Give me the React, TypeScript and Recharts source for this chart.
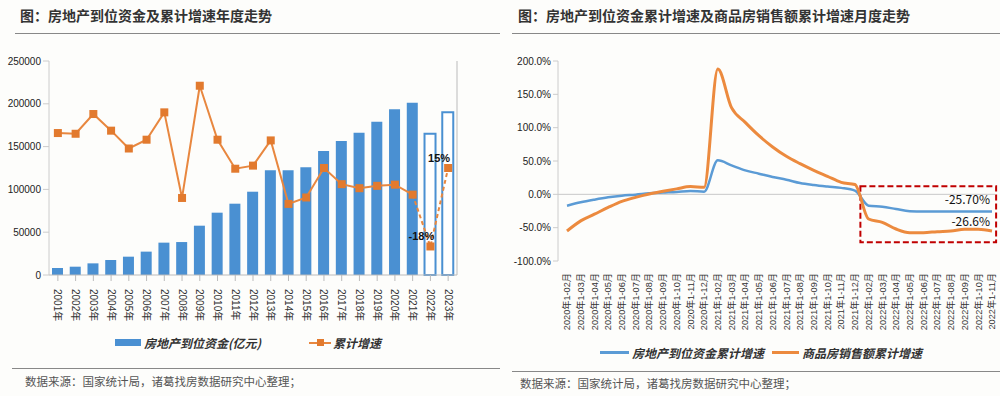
import React from 'react';
import {
  ComposedChart, LineChart, Bar, Line, XAxis, YAxis, Cell, LabelList,
  ReferenceLine, ReferenceArea,
} from 'recharts';

// ---------- Left chart data ----------
const years = ['2001年','2002年','2003年','2004年','2005年','2006年','2007年','2008年','2009年','2010年','2011年','2012年','2013年','2014年','2015年','2016年','2017年','2018年','2019年','2020年','2021年','2022年','2023年'];
const funds = [8200, 9700, 13600, 17500, 21400, 27300, 37800, 38500, 57600, 72800, 83300, 97300, 122500, 122300, 125800, 144900, 156500, 166200, 179100, 193500, 201300, 165000, 190000];
const growth = [29.7, 29.4, 37.7, 30.7, 23.2, 26.9, 38.4, 2.4, 49.6, 26.9, 14.7, 16.0, 26.6, -0.1, 2.6, 15.0, 8.2, 6.5, 7.5, 8.0, 3.8, -18, 15];
const projectedFrom = 20; // dashed segment starts at 2021
const outlinedFrom = 21;  // 2022, 2023 outlined bars
const fundTicks = [0, 50000, 100000, 150000, 200000, 250000];

// ---------- Right chart data ----------
const months = [
  '2020年1-02月','2020年1-03月','2020年1-04月','2020年1-05月','2020年1-06月','2020年1-07月','2020年1-08月','2020年1-09月','2020年1-10月','2020年1-11月','2020年1-12月',
  '2021年1-02月','2021年1-03月','2021年1-04月','2021年1-05月','2021年1-06月','2021年1-07月','2021年1-08月','2021年1-09月','2021年1-10月','2021年1-11月','2021年1-12月',
  '2022年1-02月','2022年1-03月','2022年1-04月','2022年1-05月','2022年1-06月','2022年1-07月','2022年1-08月','2022年1-09月','2022年1-10月','2022年1-11月',
];
const fundGrowth = [-17.1, -12, -8, -4.5, -2, -0.5, 1.5, 2.6, 3.6, 5.1, 4, 51, 43.5, 36, 31, 26, 22, 17, 14, 11.7, 9.7, 5.6, -17, -18.6, -22, -25.2, -25.7, -25.7, -25.6, -25.6, -25.7, -25.7];
const salesGrowth = [-55, -39.8, -29.8, -19.7, -10.6, -4.5, 0.5, 4.5, 8.2, 11.7, 10.6, 188, 130, 108, 88, 71, 57, 46, 36, 27, 18, 14.7, -37, -42, -52, -57.5, -57.5, -56, -55, -52.5, -52.5, -55];
const pctTicks = [-100, -50, 0, 50, 100, 150, 200];
const boxX = [21.4, 31.3];
const boxY = [-72, 12];
const endLabels = { fund: '-25.70%', sales: '-26.6%' };

const seriesNames = {
  funds: '房地产到位资金(亿元)',
  growth: '累计增速',
  fundGrowth: '房地产到位资金累计增速',
  salesGrowth: '商品房销售额累计增速',
};

const leftData = years.map((y, i) => ({
  year: y,
  funds: funds[i],
  growth: i <= projectedFrom ? growth[i] : null,
  proj: i >= projectedFrom ? growth[i] : null,
}));

const rightData = months.map((m, i) => ({
  idx: i,
  month: m,
  fund: fundGrowth[i],
  sales: salesGrowth[i],
}));

const BLUE_BAR = '#4a90d2';
const ORANGE = '#e8873f';
const ORANGE_DOT = '#e27a2e';
const BLUE_LINE = '#5b9bd5';
const ORANGE_LINE = '#ec8a3e';
const FONT = '"Liberation Sans", Arial, "Noto Sans CJK SC", sans-serif';
const CJK = '"Noto Sans CJK SC", sans-serif';

const SquareDot = (props: any) => {
  const { cx, cy, index } = props;
  if (cx == null || cy == null || props.value == null) return null;
  return <rect key={index} x={cx - 4} y={cy - 4} width={8} height={8} fill={ORANGE_DOT} />;
};

const ProjDot = (props: any) => {
  const { cx, cy, index } = props;
  if (cx == null || cy == null || index <= projectedFrom) return <g key={index} />;
  return <rect key={index} x={cx - 4} y={cy - 4} width={8} height={8} fill={ORANGE_DOT} />;
};

const ProjLabel = (props: any) => {
  const { x, y, value, index } = props;
  if (index <= projectedFrom || value == null) return null;
  return (
    <text x={x - 9} y={y - 6} textAnchor="middle" fontSize={11} fontWeight={700} fill="#111" fontFamily={FONT}>
      {`${value}%`}
    </text>
  );
};

const LeftTick = (props: any) => {
  const { x, y, payload } = props;
  return (
    <g transform={`translate(${x},${y + 6})`}>
      <text transform="rotate(90)" textAnchor="start" dy="0.35em" fontSize={10} fill="#333" fontFamily={FONT}>
        {payload.value}
      </text>
    </g>
  );
};

const RightTick = (props: any) => {
  const { x, y, payload } = props;
  return (
    <g transform={`translate(${x},${y + 4})`}>
      <text transform="rotate(-90)" textAnchor="end" dy="0.35em" fontSize={9.2} fill="#333" fontFamily={FONT}>
        {months[payload.value]}
      </text>
    </g>
  );
};

const makeEndLabel = (text: string, dy: number) => (props: any) => {
  const { x, y, index } = props;
  if (index !== months.length - 1) return null;
  return (
    <text x={x - 2} y={y + dy} textAnchor="end" fontSize={12} fill="#111" fontFamily={CJK}>
      {text}
    </text>
  );
};

const legendText: React.CSSProperties = {
  fontFamily: CJK, fontSize: 12, fontWeight: 700, color: '#333', fontStyle: 'italic', whiteSpace: 'nowrap',
};

export default function App() {
  return (
    <div style={{ position: 'absolute', left: 0, top: 0, width: 1000, height: 396, background: '#fdfdfb', overflow: 'hidden', fontFamily: CJK }}>
      {/* Titles */}
      <div style={{ position: 'absolute', left: 20, top: 5, fontSize: 14, fontWeight: 700, color: '#333', whiteSpace: 'nowrap' }}>
        图：房地产到位资金及累计增速年度走势
      </div>
      <div style={{ position: 'absolute', left: 518, top: 5, fontSize: 14, fontWeight: 700, color: '#333', whiteSpace: 'nowrap' }}>
        图：房地产到位资金累计增速及商品房销售额累计增速月度走势
      </div>
      <div style={{ position: 'absolute', left: 15, top: 33, width: 485, height: 1, background: '#888' }} />
      <div style={{ position: 'absolute', left: 512, top: 33, width: 488, height: 1, background: '#888' }} />
      <div style={{ position: 'absolute', left: 12, top: 368, width: 488, height: 1, background: '#888' }} />
      <div style={{ position: 'absolute', left: 512, top: 371, width: 488, height: 1, background: '#888' }} />
      <div style={{ position: 'absolute', left: 25, top: 373, fontSize: 11.5, color: '#555', whiteSpace: 'nowrap' }}>
        数据来源：国家统计局，诸葛找房数据研究中心整理；
      </div>
      <div style={{ position: 'absolute', left: 520, top: 375, fontSize: 11.5, color: '#555', whiteSpace: 'nowrap' }}>
        数据来源：国家统计局，诸葛找房数据研究中心整理；
      </div>

      {/* Left chart */}
      <div style={{ position: 'absolute', left: 0, top: 0 }}>
        <ComposedChart width={500} height={396} data={leftData} margin={{ top: 61, right: 0, left: 0, bottom: 71 }}>
          <XAxis dataKey="year" height={50} interval={0} tick={<LeftTick />} axisLine={{ stroke: '#bbb' }} tickLine={{ stroke: '#bbb' }} />
          <YAxis yAxisId="funds" width={49} domain={[0, 250000]} ticks={fundTicks} interval={0}
            tick={{ fontSize: 10, fill: '#222', fontFamily: FONT }} axisLine={{ stroke: '#ccc' }} tickLine={{ stroke: '#ccc' }} />
          <YAxis yAxisId="pct" orientation="right" width={43} domain={[-30, 60]} tick={false} tickLine={false} axisLine={{ stroke: '#bbb' }} />
          <Bar yAxisId="funds" dataKey="funds" name={seriesNames.funds} barSize={11} isAnimationActive={false}>
            {leftData.map((d, i) => (
              <Cell key={i} fill={i >= outlinedFrom ? '#ffffff' : BLUE_BAR} stroke={i >= outlinedFrom ? BLUE_BAR : 'none'} strokeWidth={i >= outlinedFrom ? 2 : 0} />
            ))}
          </Bar>
          <Line yAxisId="pct" dataKey="growth" name={seriesNames.growth} stroke={ORANGE} strokeWidth={2} dot={<SquareDot />} activeDot={false} isAnimationActive={false} connectNulls={false} />
          <Line yAxisId="pct" dataKey="proj" stroke={ORANGE} strokeWidth={2} strokeDasharray="4 3" dot={<ProjDot />} activeDot={false} isAnimationActive={false} legendType="none">
            <LabelList dataKey="proj" content={<ProjLabel />} />
          </Line>
        </ComposedChart>
      </div>

      {/* Left legend */}
      <div style={{ position: 'absolute', left: 115, top: 334, display: 'flex', alignItems: 'center' }}>
        <div style={{ width: 26, height: 7, background: BLUE_BAR, marginRight: 3 }} />
        <span style={legendText}>{seriesNames.funds}</span>
      </div>
      <div style={{ position: 'absolute', left: 309, top: 334, display: 'flex', alignItems: 'center' }}>
        <div style={{ position: 'relative', width: 22, height: 17, marginRight: 2 }}>
          <div style={{ position: 'absolute', left: 0, top: 8, width: 22, height: 2, background: ORANGE }} />
          <div style={{ position: 'absolute', left: 8, top: 5, width: 7, height: 7, background: ORANGE_DOT }} />
        </div>
        <span style={legendText}>{seriesNames.growth}</span>
      </div>

      {/* Right chart */}
      <div style={{ position: 'absolute', left: 505, top: 0 }}>
        <LineChart width={495} height={396} data={rightData} margin={{ top: 61, right: 5, left: 0, bottom: 75 }}>
          <XAxis dataKey="idx" type="number" domain={[0, months.length - 1]} ticks={months.map((_, i) => i)} interval={0}
            padding={{ left: 9, right: 3 }} height={60} tick={<RightTick />} axisLine={false} tickLine={false} />
          <YAxis width={53} domain={[-100, 200]} ticks={pctTicks} interval={0} tickSize={5}
            tickFormatter={(v: number) => `${v.toFixed(1)}%`}
            tick={{ fontSize: 10, fill: '#222', fontFamily: FONT }} axisLine={{ stroke: '#ccc' }} tickLine={{ stroke: '#ccc' }} />
          <ReferenceLine y={0} stroke="#c8c8c8" strokeWidth={1} />
          <Line dataKey="fund" name={seriesNames.fundGrowth} stroke={BLUE_LINE} strokeWidth={2.5} dot={false} activeDot={false} type="monotone" isAnimationActive={false}>
            <LabelList dataKey="fund" content={makeEndLabel(endLabels.fund, -7)} />
          </Line>
          <Line dataKey="sales" name={seriesNames.salesGrowth} stroke={ORANGE_LINE} strokeWidth={3} dot={false} activeDot={false} type="monotone" isAnimationActive={false}>
            <LabelList dataKey="sales" content={makeEndLabel(endLabels.sales, -5)} />
          </Line>
          <ReferenceArea x1={boxX[0]} x2={boxX[1]} y1={boxY[0]} y2={boxY[1]} ifOverflow="visible"
            fill="none" fillOpacity={0} stroke="#c00000" strokeWidth={2} strokeDasharray="6 3" />
        </LineChart>
      </div>

      {/* Right legend */}
      <div style={{ position: 'absolute', left: 600, top: 344, display: 'flex', alignItems: 'center' }}>
        <div style={{ width: 29, height: 3, background: BLUE_LINE, marginRight: 3 }} />
        <span style={legendText}>{seriesNames.fundGrowth}</span>
      </div>
      <div style={{ position: 'absolute', left: 772, top: 344, display: 'flex', alignItems: 'center' }}>
        <div style={{ width: 27, height: 3, background: ORANGE_LINE, marginRight: 3 }} />
        <span style={legendText}>{seriesNames.salesGrowth}</span>
      </div>
    </div>
  );
}
